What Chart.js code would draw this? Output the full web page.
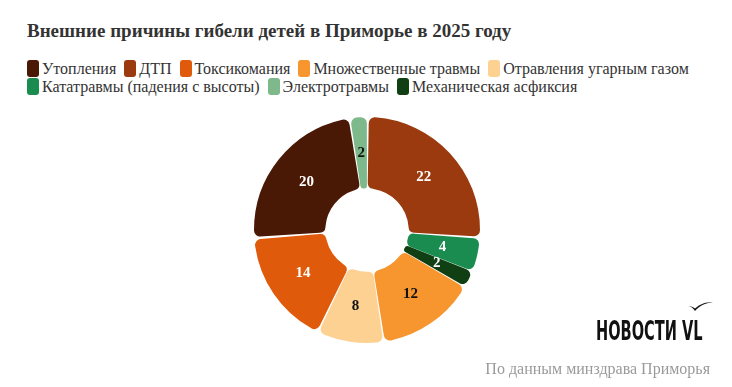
<!DOCTYPE html>
<html lang="ru">
<head>
<meta charset="utf-8">
<script src="https://cdn.jsdelivr.net/npm/chart.js@4.4.1/dist/chart.umd.min.js"></script>
<style>
  html, body { margin: 0; padding: 0; background: #fff; }
  #wrap { position: relative; width: 732px; height: 387px; overflow: hidden; }
  #title {
    position: absolute; left: 27px; top: 20px;
    font: bold 19px "Liberation Serif", serif; color: #333;
  }
  #legend {
    position: absolute; left: 27px; top: 60px; width: 690px;
    font: 16px "Liberation Serif", serif; color: #333; line-height: 18px;
  }
  #legend span.item { display: inline-block; margin-right: 8px; white-space: nowrap; }
  #legend span.box {
    display: inline-block; width: 12px; height: 17px; border-radius: 3px;
    vertical-align: -3px; margin-right: 3px;
  }
  #chartBox { position: absolute; left: 1px; top: 113px; width: 732px; height: 234px; }
  #logo {
    position: absolute; left: 596px; top: 315px;
    font: bold 27px "DejaVu Sans Condensed", "DejaVu Sans", sans-serif; color: #111;
    transform-origin: left top; transform: scaleX(0.6); white-space: nowrap; letter-spacing: 0px;
  }
  #bird { position: absolute; left: 687px; top: 300px; }
  #source {
    position: absolute; right: 22px; top: 360px;
    font: 16px "Liberation Serif", serif; color: #9a9a9a;
  }
</style>
</head>
<body>
<div id="wrap">
  <div id="title">Внешние причины гибели детей в Приморье в 2025 году</div>
  <div id="legend"></div>
  <div id="chartBox"><canvas id="pie" width="732" height="234"></canvas></div>
  <svg id="bird" width="28" height="14" viewBox="0 0 28 14">
    <path d="M1 6 C4 6.5 6 8 8 11 C12 6 18 3 26 2 C19 2 13 4 8 8.5 C6 7 4 6 1 6 Z" fill="#111"/>
  </svg>
  <div id="logo">НОВОСТИ VL</div>
  <div id="source">По данным минздрава Приморья</div>
</div>
<script>
// segments clockwise from the top
const causes = [
    'ДТП',
    'Кататравмы (падения с высоты)',
    'Механическая асфиксия',
    'Множественные травмы',
    'Отравления угарным газом',
    'Токсикомания',
    'Утопления',
    'Электротравмы'
];
const deaths = [22, 4, 2, 12, 8, 14, 20, 2];
const colors = ['#9b3a0e', '#1b8c4f', '#0f3f13', '#f7962f', '#fdd192', '#e05a0b', '#4a1906', '#7db98b'];
const labelColors = ['#fff', '#fff', '#fff', '#111', '#111', '#fff', '#fff', '#111'];
// order used in the legend
const legendOrder = [
    'Утопления',
    'ДТП',
    'Токсикомания',
    'Множественные травмы',
    'Отравления угарным газом',
    'Кататравмы (падения с высоты)',
    'Электротравмы',
    'Механическая асфиксия'
];

const valueLabels = {
    id: 'valueLabels',
    afterDatasetsDraw(chart) {
        const ctx = chart.ctx;
        const meta = chart.getDatasetMeta(0);
        ctx.save();
        ctx.font = 'bold 15px "Liberation Serif", serif';
        ctx.textAlign = 'center';
        ctx.textBaseline = 'middle';
        meta.data.forEach(function(arc, i) {
            const pos = arc.tooltipPosition();
            ctx.fillStyle = labelColors[i];
            ctx.fillText(String(deaths[i]), pos.x, pos.y);
        });
        ctx.restore();
    }
};

const chart = new Chart(document.getElementById('pie'), {
    type: 'doughnut',
    data: {
        labels: causes,
        datasets: [{
            data: deaths,
            backgroundColor: colors,
            borderWidth: 0,
            borderRadius: 6,
            spacing: 3
        }]
    },
    options: {
        responsive: false,
        animation: false,
        cutout: '36%',
        layout: { padding: 4 },
        plugins: {
            legend: { display: false },
            tooltip: { enabled: false }
        }
    },
    plugins: [valueLabels]
});

const legendEl = document.getElementById('legend');
legendOrder.forEach(function(name) {
    const i = chart.data.labels.indexOf(name);
    const item = document.createElement('span');
    item.className = 'item';
    const box = document.createElement('span');
    box.className = 'box';
    box.style.background = chart.data.datasets[0].backgroundColor[i];
    item.appendChild(box);
    item.appendChild(document.createTextNode(name));
    legendEl.appendChild(item);
});
</script>
</body>
</html>
